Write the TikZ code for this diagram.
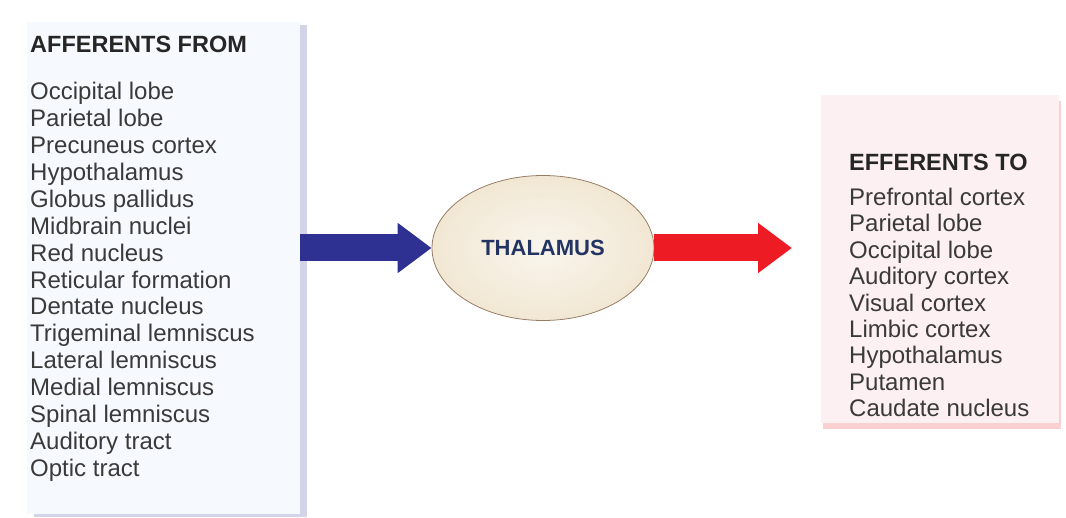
\documentclass[tikz,border=0pt]{standalone}
\usepackage{fontspec}
\setmainfont{Liberation Sans}
\usetikzlibrary{arrows.meta,shadows,shapes.geometric}

\definecolor{affblue}{HTML}{2E3192}
\definecolor{effred}{HTML}{ED1C24}
\definecolor{boxblue}{HTML}{F6F9FD}
\definecolor{boxpink}{HTML}{FDF0F2}
\definecolor{thalfill}{HTML}{F1E7D3}
\definecolor{thaltext}{HTML}{233462}
\definecolor{itemgray}{HTML}{3A3A3A}

\tikzset{
  listbox/.style={rectangle, inner sep=0pt},
  heading/.style={anchor=base west, inner sep=0pt, text=black!85,
    font=\bfseries\fontsize{23.5}{25}\selectfont},
  item/.style={anchor=base west, inner sep=0pt, text=itemgray,
    font=\fontsize{24}{26}\selectfont},
  bigarrow/.style={line width=27pt, -{Triangle[length=34pt,width=48pt]}}
}

\begin{document}
\begin{tikzpicture}[x=1pt,y=-1pt]
    \useasboundingbox (0,0) rectangle (1066,518);
    %% boxes
    \node[listbox, fill=boxblue, minimum width=273pt, minimum height=492pt,
      drop shadow={shadow xshift=7pt, shadow yshift=-3pt, fill=affblue!35, opacity=0.6}]
      (afferents) at (163.5,268) {};
    \node[listbox, fill=boxpink, minimum width=238pt, minimum height=328pt,
      drop shadow={shadow xshift=2pt, shadow yshift=-6pt, fill=effred!35, opacity=0.6}]
      (efferents) at (940,259) {};
    %% thalamus
    \node[ellipse, draw=black!45!brown!70, line width=0.8pt,
      inner color=white!60!thalfill, outer color=thalfill,
      minimum width=222pt, minimum height=145pt,
      font=\bfseries\fontsize{22}{24}\selectfont, text=thaltext]
      (thalamus) at (543,248) {THALAMUS};
    %% arrows
    \draw[bigarrow, affblue] (afferents.east |- thalamus.west) -- (thalamus.west);
    \coordinate (redend) at (792,248);
    \draw[bigarrow, effred] (thalamus.east) -- (redend);
    %% afferent list
    \node[heading] (affhead) at (30,52.5) {AFFERENTS FROM};
    \foreach \t [count=\i] in {Occipital lobe, Parietal lobe, Precuneus cortex,
        Hypothalamus, Globus pallidus, Midbrain nuclei, Red nucleus,
        Reticular formation, Dentate nucleus, Trigeminal lemniscus,
        Lateral lemniscus, Medial lemniscus, Spinal lemniscus,
        Auditory tract, Optic tract}
      \node[item] (aff\i) at (30,{100+26.86*(\i-1)}) {\t};
    %% efferent list
    \node[heading] (effhead) at (849,170.5) {EFFERENTS TO};
    \foreach \t [count=\i] in {Prefrontal cortex, Parietal lobe, Occipital lobe,
        Auditory cortex, Visual cortex, Limbic cortex, Hypothalamus,
        Putamen, Caudate nucleus}
      \node[item] (eff\i) at (849,{205.5+26.4*(\i-1)}) {\t};
\end{tikzpicture}
\end{document}
